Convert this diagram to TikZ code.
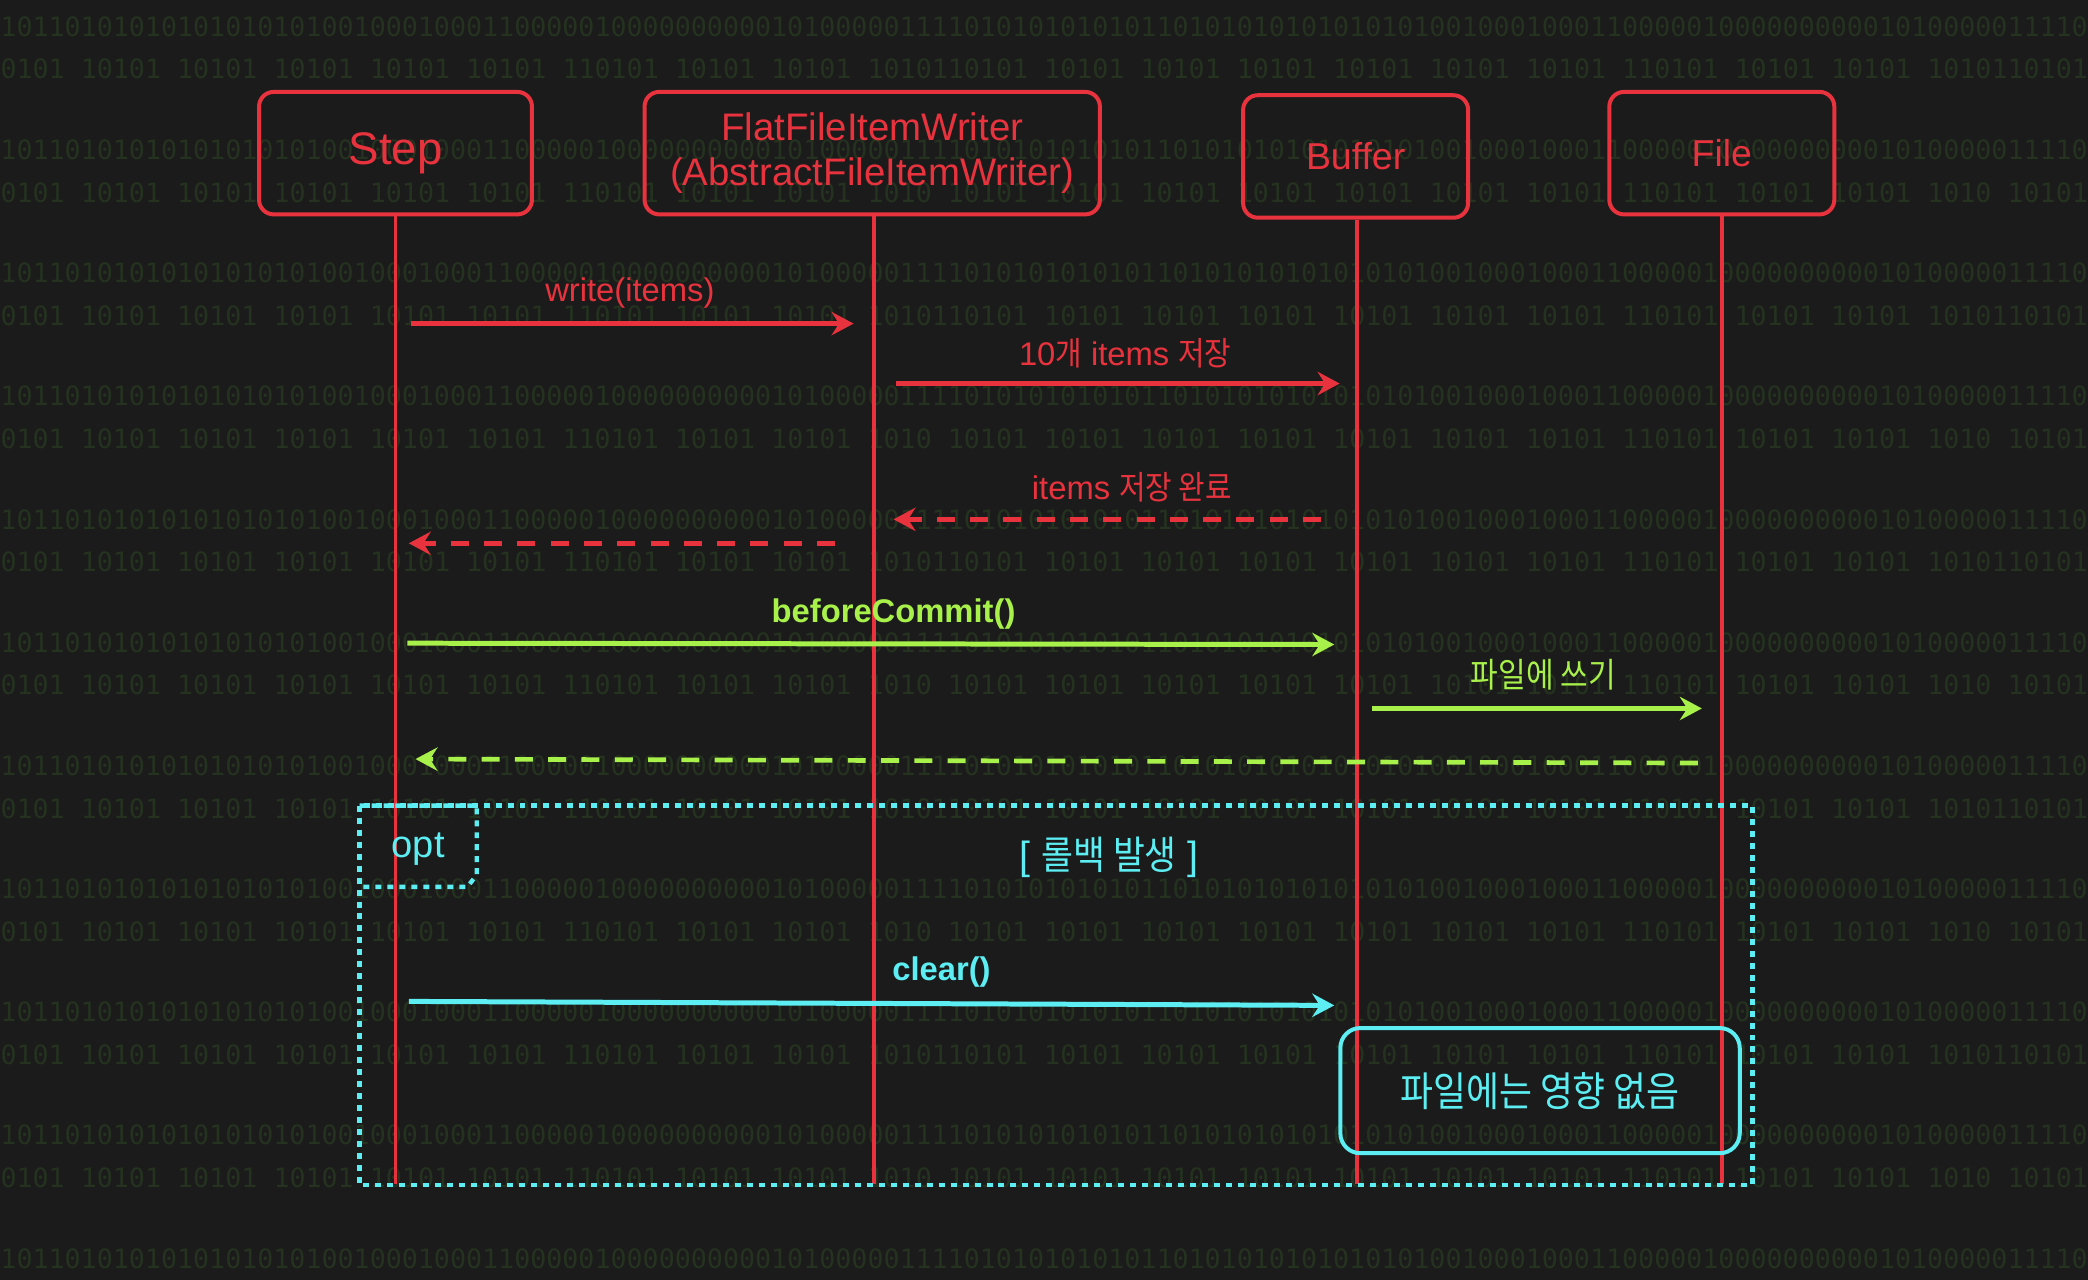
\documentclass[tikz,border=0pt]{standalone}
\usepackage{fontspec}
\setmainfont{Liberation Sans}
\newfontfamily\kr[FakeStretch=0.88]{Noto Sans CJK KR}
\newfontfamily\bits{DejaVu Sans Mono}
\usetikzlibrary{arrows.meta,positioning}
\definecolor{bgdark}{HTML}{1B1B1B}
\definecolor{bitgreen}{HTML}{24321F}
\definecolor{lred}{HTML}{E8333E}
\definecolor{lgreen}{HTML}{A8F04A}
\definecolor{lcyan}{HTML}{5CEEF2}

\begin{document}
\begin{tikzpicture}[x=0.02cm,y=-0.02cm,
  actor/.style={draw=lred,line width=0.06cm,rounded corners=0.22cm,text=lred,
    minimum height=1.84cm,inner sep=0pt},
  life/.style={lred,line width=0.06cm},
  msg/.style={line width=0.075cm,-{Stealth[length=0.33cm,width=0.35cm,inset=0.11cm]}},
  reply/.style={msg,line width=0.07cm,dash pattern=on 0.27cm off 0.23cm},
  lbl/.style={font=\fontsize{14}{16}\selectfont,inner sep=0pt},
  optframe/.style={lcyan,line width=0.065cm,dash pattern=on 0.09cm off 0.09cm},
  bitrow/.style={anchor=west,inner sep=0pt,text=bitgreen,font=\bits\fontsize{11.4}{12}\selectfont}]
  \useasboundingbox (0,0) rectangle (1568,961);
  \fill[bgdark] (0,0) rectangle (1568,961);
  % binary background
  \begin{scope}
    \clip (0,0) rectangle (1568,961);
    \foreach \r in {0,...,10} {
      \node[bitrow] (bitsA\r) at (0,20+92.5*\r)
        {1011010101010101010100100010001100000100000000001010000011110101010101011010101010101010100100010001100000100000000001010000011110101010};
    }
    \foreach \r [count=\i] in {0,...,9} {
      \ifodd\i
        \node[bitrow] (bitsB\r) at (-12,52+92.5*\r)
          {10101 10101 10101 10101 10101 10101 110101 10101 10101 1010110101 10101 10101 10101 10101 10101 10101 110101 10101 10101 1010110101};
      \else
        \node[bitrow] (bitsB\r) at (-12,52+92.5*\r)
          {10101 10101 10101 10101 10101 10101 110101 10101 10101 1010 10101 10101 10101 10101 10101 10101 10101 110101 10101 10101 1010 10101};
      \fi
    }
  \end{scope}

  % participants
  \node[actor,minimum width=4.1cm,font=\fontsize{19.5}{22}\selectfont] (step) at (297,115) {Step};
  \node[actor,minimum width=6.84cm,align=center,font=\fontsize{16.4}{19.4}\selectfont] (writer) at (655,115)
    {FlatFileItemWriter\\(AbstractFileItemWriter)};
  \node[actor,minimum width=3.38cm,font=\fontsize{16}{19}\selectfont] (buffer) at (1018,117.5) {Buffer};
  \node[actor,minimum width=3.38cm,font=\fontsize{16}{19}\selectfont] (file) at (1293,115) {File};

  \coordinate (stepend) at (297,889);
  \coordinate (writerend) at (656,889);
  \coordinate (bufferend) at (1019,889);
  \coordinate (fileend) at (1293,889);
  \draw[life] (step) -- (stepend);
  \draw[life] (writer.south -| writerend) -- (writerend);
  \draw[life] (buffer.south -| bufferend) -- (bufferend);
  \draw[life] (file) -- (fileend);

  % messages
  \coordinate (w1) at (309,243);  \coordinate (w2) at (641,243);
  \coordinate (s1) at (673,288);  \coordinate (s2) at (1006,288);
  \coordinate (d1) at (992,390);  \coordinate (d2) at (671,390);
  \coordinate (r1) at (627,408);  \coordinate (r2) at (307,408);
  \coordinate (c1) at (306,483);  \coordinate (c2) at (1002,484);
  \coordinate (f1) at (1030,532); \coordinate (f2) at (1278,532);
  \coordinate (g1) at (1275,573); \coordinate (g2) at (312,570);
  \coordinate (x1) at (307,752);  \coordinate (x2) at (1002,755);

  \draw[msg,lred] (w1) -- (w2);
  \node[lbl,lred] (wl) at (473,220) {write(items)};
  \draw[msg,lred] (s1) -- (s2);
  \node[lbl,lred] (sl) at (845,265) {10{\kr 개} items {\kr 저장}};
  \draw[reply,lred] (d1) -- (d2);
  \node[lbl,lred] (dl) at (850,366) {items {\kr 저장 완료}};
  \draw[reply,lred] (r1) -- (r2);
  \draw[msg,lgreen] (c1) -- (c2);
  \node[lbl,lgreen,font=\fontsize{14}{16}\selectfont\bfseries] (cl) at (671,461) {beforeCommit()};
  \draw[msg,lgreen] (f1) -- (f2);
  \node[lbl,lgreen] (fl) at (1159,507) {\kr\fontsize{14.6}{16}\selectfont 파일에 쓰기};
  \draw[reply,lgreen] (g1) -- (g2);

  % opt fragment
  \draw[optframe] (270,605) rectangle (1316,890);
  \draw[optframe] (270,605) -- (358,605) -- (358,657) -- (351,666) -- (270,666);
  \node[lbl,lcyan,font=\fontsize{16.3}{18}\selectfont] (opt) at (314,638) {opt};
  \node[lbl,lcyan,font=\fontsize{16.8}{18}\selectfont] (guard) at (833,644) {[ {\kr 롤백 발생} ]};
  \draw[msg,lcyan] (x1) -- (x2);
  \node[lbl,lcyan,font=\fontsize{14}{16}\selectfont\bfseries] (xl) at (707,730) {clear()};
  \node[draw=lcyan,line width=0.06cm,rounded corners=0.3cm,minimum width=6cm,minimum height=1.88cm,
    text=lcyan,font=\kr\fontsize{17.4}{19}\selectfont] (note) at (1156.5,819) {파일에는 영향 없음};
\end{tikzpicture}
\end{document}
